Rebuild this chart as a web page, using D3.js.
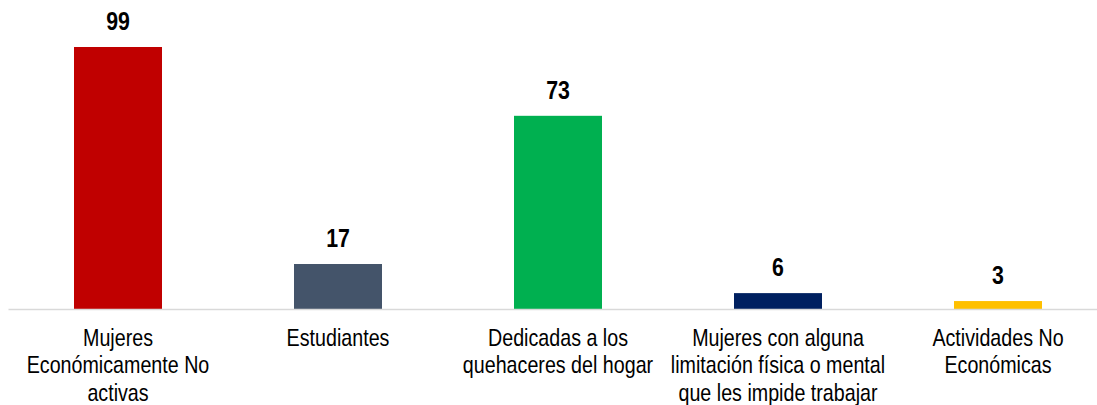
<!DOCTYPE html>
<html>
<head>
<meta charset="utf-8">
<script src="https://cdn.jsdelivr.net/npm/d3@7"></script>
<style>
  body { margin: 0; background: #fff; }
  svg { display: block; }
  text { font-family: "Liberation Sans", Arial, sans-serif; }
</style>
</head>
<body>
<svg></svg>
<script>
// chart data
const categories = [
  'Mujeres Económicamente No activas',
  'Estudiantes',
  'Dedicadas a los quehaceres del hogar',
  'Mujeres con alguna limitación física o mental que les impide trabajar',
  'Actividades No Económicas'
];
const labelLines = [
  ['Mujeres', 'Económicamente No', 'activas'],
  ['Estudiantes'],
  ['Dedicadas a los', 'quehaceres del hogar'],
  ['Mujeres con alguna', 'limitación física o mental', 'que les impide trabajar'],
  ['Actividades No', 'Económicas']
];
const values = [99, 17, 73, 6, 3];
const colors = ['#c00000', '#44546a', '#00b050', '#002060', '#ffc000'];

const width = 1097;
const height = 405;
const margin = {top: 47, bottom: 96, left: 8, right: -11};
const narrow = 0.82; // squeeze to mimic a narrow face

const svg = d3.select('svg')
  .attr('width', width)
  .attr('height', height);

const x = d3.scaleBand()
  .domain(categories)
  .range([margin.left, width - margin.right])
  .paddingInner(0.6)
  .paddingOuter(0.3);

const y = d3.scaleLinear()
  .domain([0, d3.max(values)])
  .range([height - margin.bottom, margin.top]);

const data = categories.map((c, i) => ({cat: c, value: values[i], color: colors[i], lines: labelLines[i]}));

// bars
svg.selectAll('rect.bar')
  .data(data)
  .enter().append('rect')
  .attr('class', 'bar')
  .attr('x', d => x(d.cat))
  .attr('y', d => y(d.value))
  .attr('width', x.bandwidth())
  .attr('height', d => y(0) - y(d.value))
  .attr('fill', d => d.color);

// baseline axis
const axisG = svg.append('g')
  .attr('transform', `translate(0, ${y(0)})`)
  .call(d3.axisBottom(x).tickSize(0).tickFormat(''));
axisG.select('.domain')
  .attr('stroke', '#d9d9d9')
  .attr('stroke-width', 1.5);

// value labels
svg.selectAll('text.val')
  .data(data)
  .enter().append('text')
  .attr('class', 'val')
  .attr('transform', d => `translate(${x(d.cat) + x.bandwidth() / 2}, ${y(d.value) - 17}) scale(${narrow},1)`)
  .attr('text-anchor', 'middle')
  .style('font-size', '26px')
  .style('font-weight', 'bold')
  .attr('fill', '#000')
  .text(d => d.value);

// category labels
const catG = svg.selectAll('g.cat')
  .data(data)
  .enter().append('g')
  .attr('class', 'cat')
  .attr('transform', d => `translate(${x(d.cat) + x.bandwidth() / 2}, ${y(0) + 37}) scale(${narrow},1)`);

catG.selectAll('text')
  .data(d => d.lines)
  .enter().append('text')
  .attr('y', (d, i) => i * 27.5)
  .attr('text-anchor', 'middle')
  .style('font-size', '24px')
  .attr('fill', '#000')
  .text(d => d);
</script>
</body>
</html>
